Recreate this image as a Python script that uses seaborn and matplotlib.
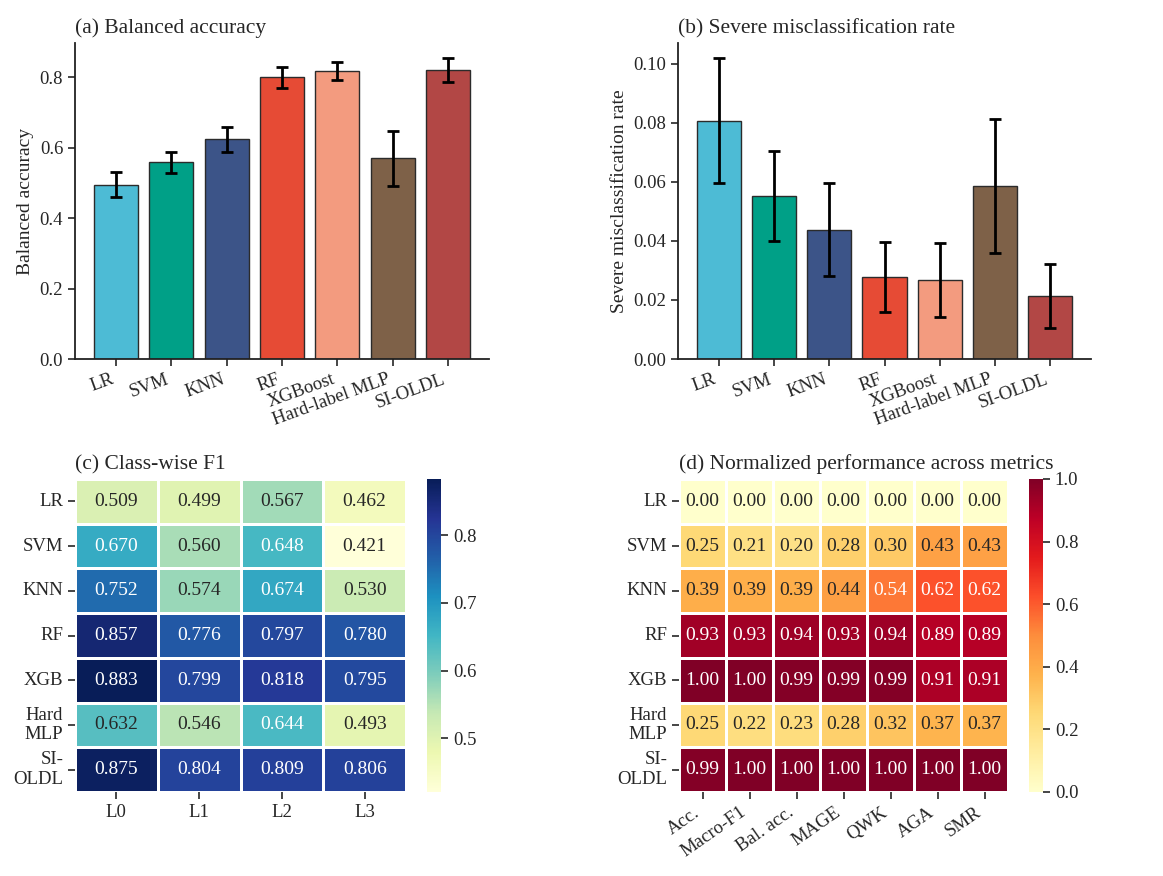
import numpy as np
import pandas as pd
import matplotlib
matplotlib.use("Agg")
import matplotlib.pyplot as plt
import seaborn as sns

models = ["LR", "SVM", "KNN", "RF", "XGBoost", "Hard-label MLP", "SI-OLDL"]
colors = ["#4DBBD5", "#00A087", "#3C5488", "#E64B35", "#F39B7F", "#7E6148", "#B24745"]

bal_acc = [0.495, 0.558, 0.623, 0.800, 0.818, 0.570, 0.820]
bal_acc_err = [0.035, 0.030, 0.035, 0.030, 0.025, 0.078, 0.034]

smr = [0.0808, 0.0553, 0.0438, 0.0278, 0.0268, 0.0586, 0.0213]
smr_err = [0.0212, 0.0152, 0.0157, 0.0120, 0.0125, 0.0226, 0.0108]

hm_rows = ["LR", "SVM", "KNN", "RF", "XGB", "Hard\nMLP", "SI-\nOLDL"]
f1_cols = ["L0", "L1", "L2", "L3"]
f1_L0 = [0.509, 0.670, 0.752, 0.857, 0.883, 0.632, 0.875]
f1_L1 = [0.499, 0.560, 0.574, 0.776, 0.799, 0.546, 0.804]
f1_L2 = [0.567, 0.648, 0.674, 0.797, 0.818, 0.644, 0.809]
f1_L3 = [0.462, 0.421, 0.530, 0.780, 0.795, 0.493, 0.806]

metric_cols = ["Acc.", "Macro-F1", "Bal. acc.", "MAGE", "QWK", "AGA", "SMR"]
norm_LR = [0.00, 0.00, 0.00, 0.00, 0.00, 0.00, 0.00]
norm_SVM = [0.25, 0.21, 0.20, 0.28, 0.30, 0.43, 0.43]
norm_KNN = [0.39, 0.39, 0.39, 0.44, 0.54, 0.62, 0.62]
norm_RF = [0.93, 0.93, 0.94, 0.93, 0.94, 0.89, 0.89]
norm_XGB = [1.00, 1.00, 0.99, 0.99, 0.99, 0.91, 0.91]
norm_MLP = [0.25, 0.22, 0.23, 0.28, 0.32, 0.37, 0.37]
norm_SI = [0.99, 1.00, 1.00, 1.00, 1.00, 1.00, 1.00]

sns.set_style("ticks")
plt.rcParams["font.family"] = ["Liberation Serif", "DejaVu Serif"]
plt.rcParams["mathtext.fontset"] = "stix"

fig = plt.figure(figsize=(11.63, 8.76), dpi=100)
W, H = 1163, 876

def axpix(l, t, r, b):
    return fig.add_axes([l / W, 1 - b / H, (r - l) / W, (b - t) / H])

TICK = 13.5
LAB = 14
TIT = 15.5

def bar_panel(ax, vals, errs, ylabel, title):
    df = pd.DataFrame({"model": models, "val": vals})
    sns.barplot(data=df, x="model", y="val", hue="model", palette=colors,
                saturation=1, legend=False, errorbar=None, edgecolor="#2b2b2b",
                linewidth=1.0, width=0.8, ax=ax)
    ax.errorbar(np.arange(len(models)), vals, yerr=errs, fmt="none",
                ecolor="black", elinewidth=2, capsize=4, capthick=2)
    ax.set_xlim(-0.74, len(models) - 1 + 0.74)
    top = max(np.array(vals) + np.array(errs))
    ax.set_ylim(0, top * 1.05)
    ax.set_xlabel("")
    ax.set_ylabel(ylabel, fontsize=LAB)
    ax.set_title(title, loc="left", fontsize=TIT, pad=7)
    ax.tick_params(axis="both", labelsize=TICK, width=1.2, length=5)
    plt.setp(ax.get_xticklabels(), rotation=20, ha="right", rotation_mode="default")
    for s in ["top", "right"]:
        ax.spines[s].set_visible(False)
    for s in ["left", "bottom"]:
        ax.spines[s].set_linewidth(1.3)
        ax.spines[s].set_color("#222222")

ax_a = axpix(75, 43, 489, 359)
bar_panel(ax_a, bal_acc, bal_acc_err, "Balanced accuracy", "(a) Balanced accuracy")
ax_a.set_yticks([0.0, 0.2, 0.4, 0.6, 0.8])

ax_b = axpix(678, 43, 1091, 359)
bar_panel(ax_b, smr, smr_err, "Severe misclassification rate", "(b) Severe misclassification rate")
ax_b.set_yticks([0.0, 0.02, 0.04, 0.06, 0.08, 0.10])
ax_b.set_yticklabels(["0.00", "0.02", "0.04", "0.06", "0.08", "0.10"])

# (c)
f1_df = pd.DataFrame({"L0": f1_L0, "L1": f1_L1, "L2": f1_L2, "L3": f1_L3}, index=hm_rows)
ax_c = axpix(75, 479, 406, 792)
cax_c = axpix(427, 479, 441, 792)
sns.heatmap(f1_df, ax=ax_c, cbar_ax=cax_c, cmap="YlGnBu", annot=True, fmt=".3f",
            linewidths=0.8, linecolor="white", annot_kws={"fontsize": 14})
ax_c.set_title("(c) Class-wise F1", loc="left", fontsize=TIT, pad=7)
ax_c.tick_params(axis="both", labelsize=TICK, length=5, width=1.2)
plt.setp(ax_c.get_yticklabels(), rotation=0)
plt.setp(ax_c.get_xticklabels(), rotation=0)
cax_c.tick_params(labelsize=TICK, length=5, width=1.2)
cax_c.set_yticks([0.5, 0.6, 0.7, 0.8])

# (d)
norm_df = pd.DataFrame([norm_LR, norm_SVM, norm_KNN, norm_RF, norm_XGB, norm_MLP, norm_SI],
                       index=hm_rows, columns=metric_cols)
ax_d = axpix(679, 479, 1008, 792)
cax_d = axpix(1029, 479, 1043, 792)
sns.heatmap(norm_df, ax=ax_d, cbar_ax=cax_d, cmap="YlOrRd", vmin=0, vmax=1, annot=True,
            fmt=".2f", linewidths=0.8, linecolor="white", annot_kws={"fontsize": 14})
ax_d.set_title("(d) Normalized performance across metrics", loc="left", fontsize=TIT, pad=7)
ax_d.tick_params(axis="both", labelsize=TICK, length=5, width=1.2)
plt.setp(ax_d.get_yticklabels(), rotation=0)
plt.setp(ax_d.get_xticklabels(), rotation=35, ha="right", rotation_mode="default")
cax_d.tick_params(labelsize=TICK, length=5, width=1.2)
cax_d.set_yticks([0.0, 0.2, 0.4, 0.6, 0.8, 1.0])

fig.savefig("out.png", dpi=100)
